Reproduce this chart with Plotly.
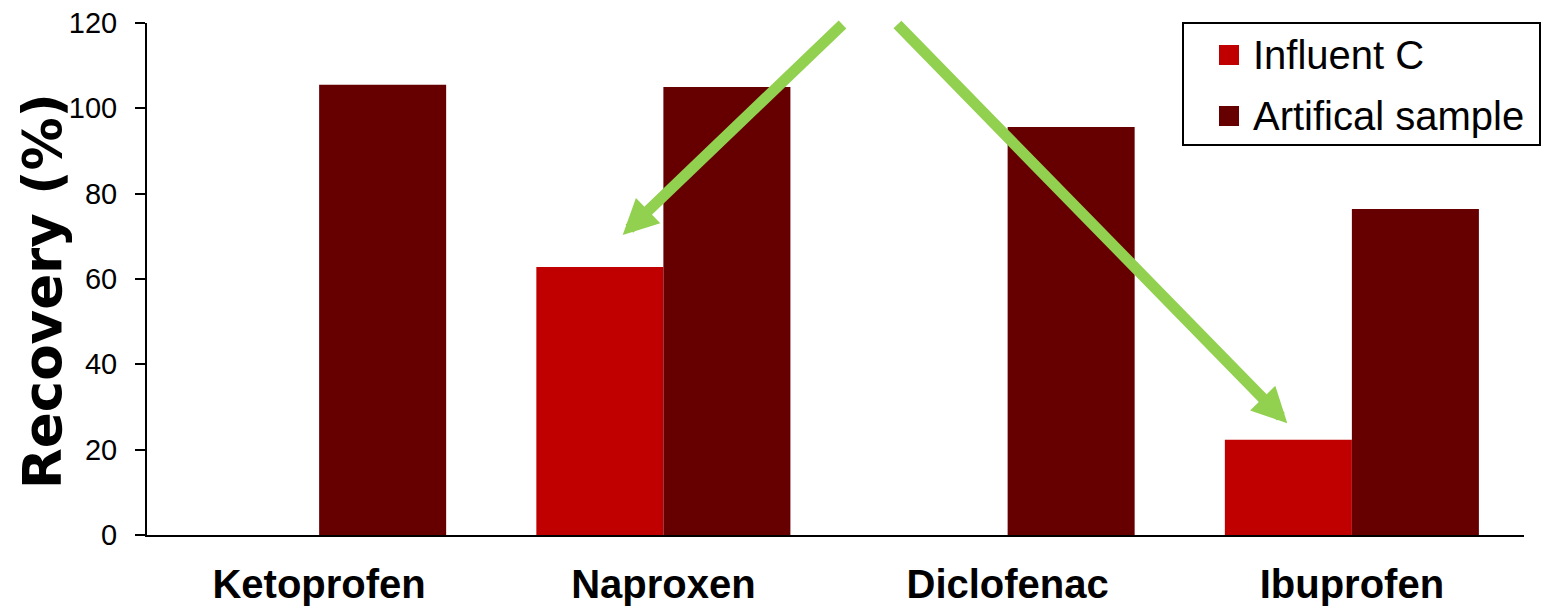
import plotly.graph_objects as go

# Recovery of four NSAIDs: spiked influent C vs. an artificial sample
compounds = ["Ketoprofen", "Naproxen", "Diclofenac", "Ibuprofen"]
influent_c = [None, 62.8, None, 22.3]
artificial_sample = [105.5, 105.0, 95.6, 76.4]
y_tick_values = [0, 20, 40, 60, 80, 100, 120]
series_names = ["Influent C", "Artifical sample"]

RED = "#C00000"
DARK_RED = "#660000"
GREEN = "#92D050"

W, H = 1542, 607
L, R, T, B = 147, 18, 23, 72
PW, PH = W - L - R, H - T - B


def px(x):
    """page x (pixels) -> paper fraction"""
    return (x - L) / PW


def py(y):
    """page y (pixels, top-down) -> paper fraction"""
    return (H - B - y) / PH


fig = go.Figure()
fig.add_trace(go.Bar(x=compounds, y=influent_c, name=series_names[0],
                     marker=dict(color=RED, line=dict(width=0))))
fig.add_trace(go.Bar(x=compounds, y=artificial_sample, name=series_names[1],
                     marker=dict(color=DARK_RED, line=dict(width=0))))

fig.update_layout(
    width=W, height=H,
    margin=dict(l=L, r=R, t=T, b=B, pad=0, autoexpand=False),
    paper_bgcolor="white", plot_bgcolor="white",
    barmode="group", bargap=0.262, bargroupgap=0,
    showlegend=False,
    font=dict(family="Liberation Sans, Arial, sans-serif", color="black"),
)

fig.update_xaxes(
    automargin=False,
    showline=True, linecolor="black", linewidth=2,
    ticks="", showgrid=False, zeroline=False,
    tickfont=dict(size=40, weight="bold", color="black"),
    ticklabelstandoff=13,
)
fig.update_yaxes(
    automargin=False,
    range=[0, 120], tickvals=y_tick_values,
    showline=True, linecolor="black", linewidth=2,
    ticks="outside", ticklen=10, tickwidth=2, tickcolor="black",
    showgrid=False, zeroline=False,
    tickfont=dict(size=29, color="black"),
    ticklabelstandoff=12,
)

annotations = []

# Y-axis title
annotations.append(dict(
    text="Recovery (%)", textangle=-90, showarrow=False,
    xref="paper", yref="paper", x=px(42), y=py(291),
    xanchor="center", yanchor="middle",
    font=dict(family="DejaVu Sans, sans-serif", size=53, weight="bold", color="black"),
))

# Green arrows pointing at the influent bars
for tip, tail in [((622.7, 235.0), (844.0, 23.0)), ((1287.3, 423.3), (896.0, 23.0))]:
    annotations.append(dict(
        text="", showarrow=True,
        xref="paper", yref="paper", x=px(tip[0]), y=py(tip[1]),
        axref="pixel", ayref="pixel", ax=tail[0] - tip[0], ay=tail[1] - tip[1],
        arrowhead=2, arrowsize=0.64, arrowwidth=11, arrowcolor=GREEN,
        standoff=0,
    ))

# Legend entries
legend_rows = [(series_names[0], RED, 55), (series_names[1], DARK_RED, 116)]
shapes = [dict(type="rect", xref="paper", yref="paper",
               x0=px(1183), x1=px(1540), y0=py(145), y1=py(23),
               line=dict(color="black", width=2), fillcolor="white", layer="above")]
for name, color, cy in legend_rows:
    shapes.append(dict(type="rect", xref="paper", yref="paper",
                       x0=px(1219), x1=px(1239), y0=py(cy + 10), y1=py(cy - 10),
                       line=dict(width=0), fillcolor=color, layer="above"))
    annotations.append(dict(
        text=name, showarrow=False, xref="paper", yref="paper",
        x=px(1251), y=py(cy), xanchor="left", yanchor="middle",
        font=dict(size=40, color="black"),
    ))

fig.update_layout(annotations=annotations, shapes=shapes)

fig.write_html("out.html")
